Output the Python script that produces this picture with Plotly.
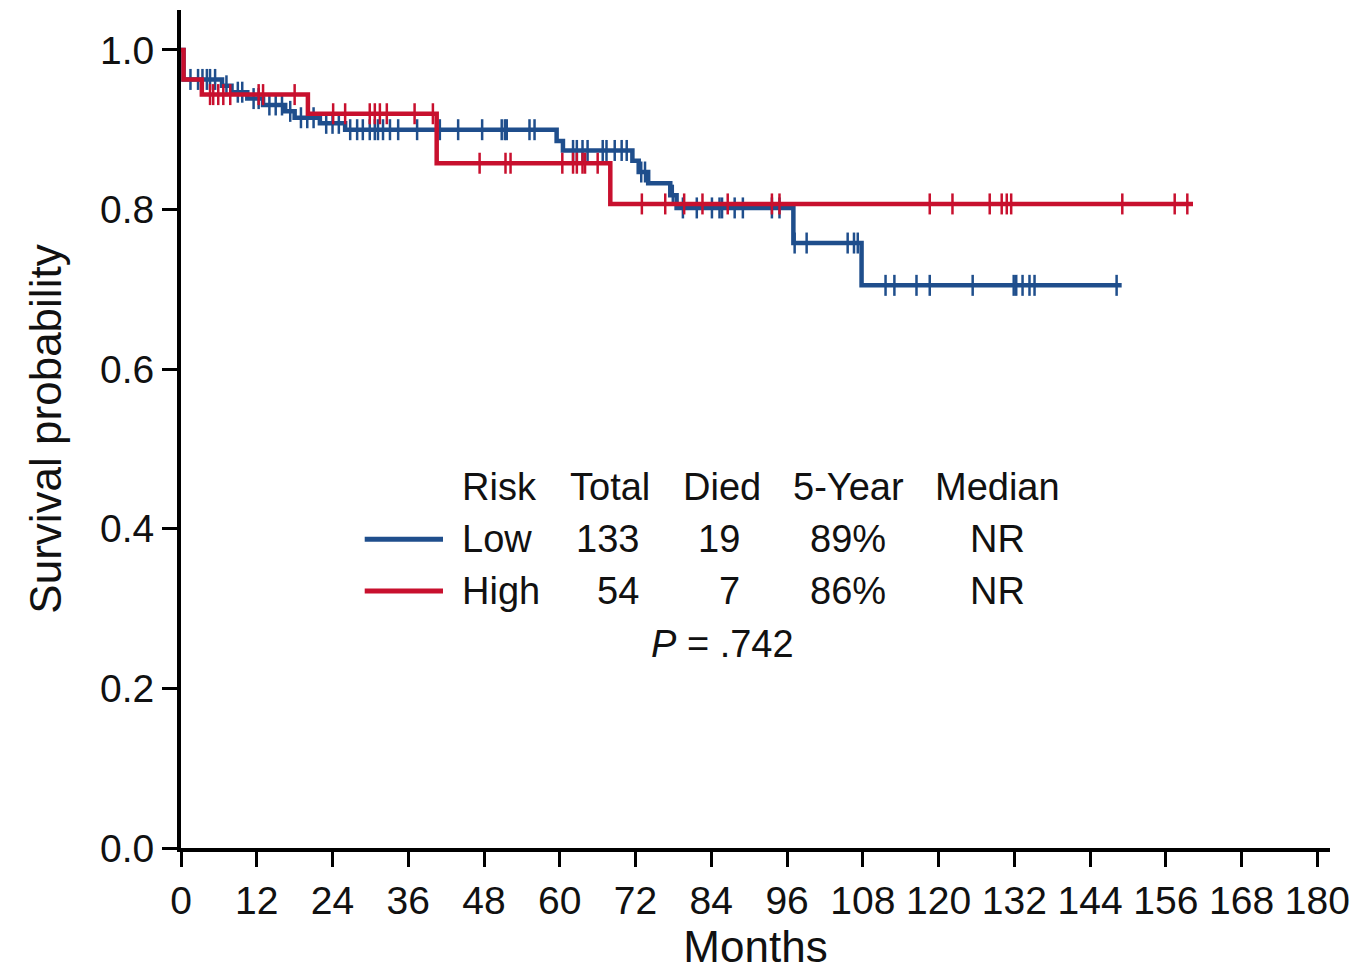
import numpy as np
import plotly.graph_objects as go

# ---------------- data ----------------
months_ticks = list(range(0, 181, 12))
surv_ticks = [0.0, 0.2, 0.4, 0.6, 0.8, 1.0]

low_event_t = [0.4, 6.5, 8.0, 10.5, 13.0, 16.5, 18.0, 22.0, 26.0, 59.5, 60.5,
               71.5, 72.5, 74.0, 77.5, 78.5, 97.0, 107.8]
low_event_s = [0.963, 0.955, 0.947, 0.939, 0.931, 0.923, 0.915, 0.908, 0.900,
               0.886, 0.874, 0.861, 0.847, 0.833, 0.818, 0.802, 0.758, 0.705]
low_censor_t = [1.5, 2.7, 3.4, 4.1, 4.6, 5.4, 7.2, 9.0, 9.7, 11.5, 12.3, 14.0, 15.0,
                16.0, 17.3, 19.0, 20.0, 21.0, 23.0, 24.0, 25.0, 26.8, 27.9, 28.8,
                29.9, 30.7, 31.2, 32.0, 33.1, 34.4, 37.4, 41.0, 43.9, 47.7, 50.8,
                51.3, 51.6, 55.2, 56.0, 62.1, 62.7, 63.6, 64.4, 66.8, 67.4, 68.7,
                69.8, 70.6, 72.9, 73.5, 77.9, 79.5, 81.7, 84.1, 85.3, 85.7, 87.7,
                89.0, 93.6, 94.8, 97.2, 99.1, 105.6, 106.6, 107.2, 111.6, 113.0,
                116.5, 118.6, 125.4, 131.9, 132.3, 133.3, 134.4, 135.2, 148.2]
low_end = 149.0

high_event_t = [0.4, 3.3, 20.1, 40.5, 68.0]
high_event_s = [0.963, 0.944, 0.920, 0.858, 0.807]
high_censor_t = [4.6, 5.1, 5.9, 6.7, 7.8, 12.3, 13.0, 18.0, 24.1, 26.0, 29.9, 30.7,
                 31.5, 32.6, 37.0, 39.9, 47.3, 51.4, 52.2, 60.4, 62.1, 62.7, 63.6,
                 64.0, 66.0, 73.0, 76.7, 79.7, 82.6, 86.6, 93.6, 94.8, 118.6, 122.2,
                 128.1, 130.0, 130.8, 131.5, 149.1, 157.4, 159.4]
high_end = 160.3

table_header = ["Risk", "Total", "Died", "5-Year", "Median"]
low_row = ["Low", "133", "19", "89%", "NR"]
high_row = ["High", "54", "7", "86%", "NR"]
p_text = "<i>P</i> = .742"

BLUE = "#1F4E8C"
RED = "#C8102E"
FONT = "Liberation Sans Narrow, Arial Narrow, Liberation Sans, Arial, sans-serif"
TXT = "#111111"


def step_xy(ev_t, ev_s, end):
    x = [0.0] + list(ev_t) + [end]
    y = [1.0] + list(ev_s) + [ev_s[-1]]
    return x, y


def surv_at(t, ev_t, ev_s):
    idx = np.searchsorted(np.array(ev_t), np.array(t), side="right")
    levels = np.array([1.0] + list(ev_s))
    return levels[idx]


fig = go.Figure()
for ev_t, ev_s, cens, end, col in [
    (low_event_t, low_event_s, low_censor_t, low_end, BLUE),
    (high_event_t, high_event_s, high_censor_t, high_end, RED),
]:
    x, y = step_xy(ev_t, ev_s, end)
    fig.add_trace(go.Scatter(x=x, y=y, mode="lines", line=dict(color=col, width=4.5, shape="hv"),
                             showlegend=False, hoverinfo="skip"))
    fig.add_trace(go.Scatter(x=cens, y=surv_at(cens, ev_t, ev_s), mode="markers",
                             marker=dict(symbol="line-ns", size=15, line=dict(color=col, width=2.5)),
                             showlegend=False, hoverinfo="skip"))

# ---- table-style legend ----
fs = 38
row_y = [0.452, 0.387, 0.322]
ann = []
hdr_x = [44.2, 67.9, 85.7, 105.8, 129.3]
hdr_anchor = ["left", "center", "center", "center", "center"]
for txt, xx, an in zip(table_header, hdr_x, hdr_anchor):
    ann.append(dict(x=xx, y=row_y[0], text=txt, xanchor=an))
val_x = [44.2, 72.9, 88.9, 105.7, 129.3]
val_anchor = ["left", "right", "right", "center", "center"]
for row, yy in [(low_row, row_y[1]), (high_row, row_y[2])]:
    for txt, xx, an in zip(row, val_x, val_anchor):
        ann.append(dict(x=xx, y=yy, text=txt, xanchor=an))
ann.append(dict(x=85.7, y=0.256, text=p_text, xanchor="center"))
annotations = [dict(a, xref="x", yref="y", yanchor="middle", showarrow=False,
                    font=dict(family=FONT, size=fs, color=TXT)) for a in ann]

shapes = [
    dict(type="line", xref="x", yref="y", x0=29.1, x1=41.5, y0=row_y[1], y1=row_y[1],
         line=dict(color=BLUE, width=5)),
    dict(type="line", xref="x", yref="y", x0=29.1, x1=41.5, y0=row_y[2], y1=row_y[2],
         line=dict(color=RED, width=5)),
]

axis_common = dict(showline=True, linecolor="black", linewidth=4, ticks="outside",
                   ticklen=15, tickwidth=3, tickcolor="black", showgrid=False,
                   zeroline=False, tickfont=dict(family=FONT, size=39, color=TXT))

fig.update_layout(
    width=1367, height=976,
    margin=dict(l=173, r=45, t=2, b=136),
    plot_bgcolor="white", paper_bgcolor="white",
    annotations=annotations, shapes=shapes,
    xaxis=dict(range=[0, 182], tickvals=months_ticks, ticktext=[str(v) for v in months_ticks],
               title=dict(text="Months", font=dict(family=FONT, size=44, color=TXT), standoff=4),
               **axis_common),
    yaxis=dict(range=[0, 1.05], tickvals=surv_ticks, ticktext=[f"{v:.1f}" for v in surv_ticks],
               title=dict(text="Survival probability", font=dict(family=FONT, size=44, color=TXT),
                          standoff=26),
               **axis_common),
)

fig.write_html("out.html")
